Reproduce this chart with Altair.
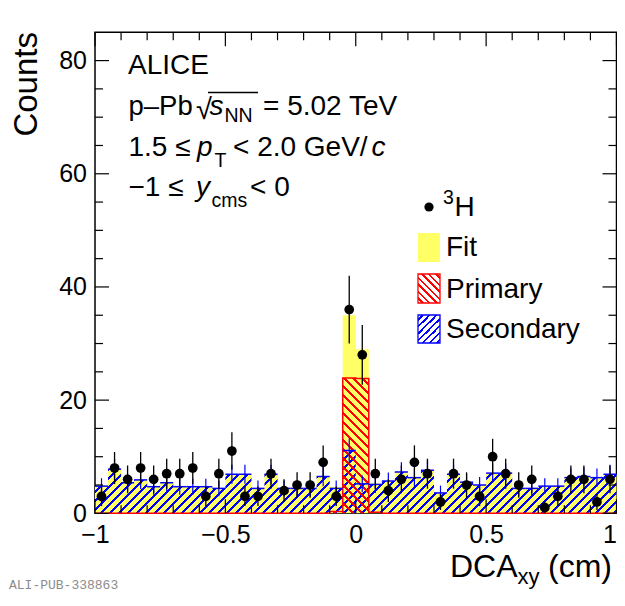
import altair as alt
import numpy as np
import pandas as pd

FONT = "Liberation Sans"
YELLOW = "#ffff66"

# ---------------- data ----------------
counts = [3, 8, 6, 8, 6, 7, 7, 8, 3, 7,
          11, 3, 3, 7, 4, 5, 5, 9, 3, 36,
          28, 7, 4, 6, 9, 7, 2, 7, 5, 3,
          10, 7, 5, 6, 1, 3, 6, 6, 2, 6]
count_err = [1.73, 2.83, 2.45, 2.83, 2.45, 2.65, 2.65, 2.83, 1.73, 2.65,
             3.32, 1.73, 1.73, 2.65, 2.0, 2.24, 2.24, 3.0, 1.73, 6.0,
             5.29, 2.65, 2.0, 2.45, 3.0, 2.65, 1.41, 2.65, 2.24, 1.73,
             3.16, 2.65, 2.24, 2.45, 1.0, 1.73, 2.45, 2.45, 1.41, 2.45]
fit = [4.8, 7.8, 5.4, 5.9, 4.7, 5.4, 4.7, 4.7, 4.7, 4.4,
       6.9, 6.9, 4.4, 6.9, 4.4, 4.4, 4.4, 6.5, 4.7, 35.0,
       29.0, 5.3, 5.7, 7.3, 6.3, 7.6, 3.6, 6.9, 5.5, 5.0,
       7.1, 7.1, 4.4, 4.4, 4.8, 4.8, 6.3, 6.5, 6.3, 6.9]
secondary = [4.8, 7.8, 5.4, 5.9, 4.7, 5.4, 4.7, 4.7, 4.7, 4.4,
             6.9, 6.9, 4.4, 6.9, 4.4, 4.4, 4.4, 6.5, 4.4, 11.1,
             5.2, 5.1, 5.7, 7.3, 6.3, 7.6, 3.6, 6.9, 5.5, 5.0,
             7.1, 7.1, 4.4, 4.4, 4.8, 4.8, 6.3, 6.5, 6.3, 6.9]
secondary_err = [1.4, 1.8, 1.5, 1.6, 1.4, 1.5, 1.4, 1.4, 1.4, 1.4,
                 1.7, 1.7, 1.4, 1.7, 1.4, 1.4, 1.4, 1.7, 1.4, 2.1,
                 1.5, 1.5, 1.5, 1.7, 1.6, 1.8, 1.3, 1.7, 1.5, 1.4,
                 1.7, 1.7, 1.4, 1.4, 1.4, 1.4, 1.6, 1.6, 1.6, 1.7]
primary = [0, 0, 0, 0, 0, 0, 0, 0, 0, 0,
           0, 0, 0, 0, 0, 0, 0, 0, 0.3, 23.9,
           23.8, 0.2, 0, 0, 0, 0, 0, 0, 0, 0,
           0, 0, 0, 0, 0, 0, 0, 0, 0, 0]

x_major = [-1.0, -0.5, 0.0, 0.5, 1.0]
x_minor = [-0.9, -0.8, -0.7, -0.6, -0.4, -0.3, -0.2, -0.1,
           0.1, 0.2, 0.3, 0.4, 0.6, 0.7, 0.8, 0.9]
y_major = [0, 20, 40, 60, 80]
y_minor = [5, 10, 15, 25, 30, 35, 45, 50, 55, 65, 70, 75]

N_BINS = 40
edges = np.round(np.linspace(-1.0, 1.0, N_BINS + 1), 3)
lo = edges[:-1]
hi = edges[1:]
center = np.round((lo + hi) / 2, 4)

bins = pd.DataFrame({
    "lo": lo, "hi": hi, "c": center,
    "n": counts, "n_lo": np.array(counts) - np.array(count_err),
    "n_hi": np.array(counts) + np.array(count_err),
    "sec": secondary,
    "sec_lo": np.array(secondary) - np.array(secondary_err),
    "sec_hi": np.array(secondary) + np.array(secondary_err),
})
step = pd.DataFrame({
    "x": list(lo) + [1.0],
    "fit": fit + [fit[-1]],
    "sec": secondary + [secondary[-1]],
    "prim": primary + [primary[-1]],
})

# ---------------- layout ----------------
X0, Y0 = 95.0, 32.3          # page position of the plot's top-left corner
W, H = 521.5, 481
YMAX = 85
TXT = 28

xs = alt.Scale(domain=[-1, 1], nice=False, zero=False)
ys = alt.Scale(domain=[0, YMAX], nice=False, zero=False)
X_AX = alt.Axis(values=x_major, format="~g", ticks=False, tickSize=0, domain=False,
                grid=False, labelFontSize=25, labelFont=FONT, labelColor="black",
                labelPadding=9, labelFlush=False, labelOverlap=False, title=None,
                labelAlign={"condition": {"test": "datum.value === 1", "value": "right"},
                            "value": "center"})
Y_AX = alt.Axis(values=y_major, format="d", ticks=False, tickSize=0, domain=False,
                grid=False, labelFontSize=25, labelFont=FONT, labelColor="black",
                labelPadding=8.5, labelOverlap=False, title=None)


def X(f):
    return alt.X(f, type="quantitative", scale=xs, axis=X_AX)


def Y(f):
    return alt.Y(f, type="quantitative", scale=ys, axis=Y_AX, stack=None)


def hatch(w, h, period, lw, color, direction):
    L = w + h
    k = L / (w * w + h * h)
    if direction == "/":
        x1, y1, x2, y2 = 0, 0, k * w, k * h
    else:
        x1, y1, x2, y2 = 0, 1, k * w, 1 - k * h
    clear = "rgba(255,255,255,0)"
    stops = []
    pos = period / 2
    while pos + lw < L:
        a = round(pos / L, 5)
        b = round((pos + lw) / L, 5)
        stops += [alt.GradientStop(offset=a, color=clear),
                  alt.GradientStop(offset=a, color=color),
                  alt.GradientStop(offset=b, color=color),
                  alt.GradientStop(offset=b, color=clear)]
        pos += period
    return alt.LinearGradient(gradient="linear", stops=stops,
                              x1=x1, y1=y1, x2=x2, y2=y2)


h_sec = max(secondary) / YMAX * H
h_prim = max(primary) / YMAX * H

dummy = pd.DataFrame({"k": [0]})


def label(txt, px, py, size=TXT, style="normal", align="left", angle=0,
          font=FONT, color="black"):
    kw = dict(text=txt, align=align, baseline="alphabetic", fontSize=size,
              font=font, color=color, fontStyle=style)
    if angle:
        kw["angle"] = angle
    return alt.Chart(dummy).mark_text(**kw).encode(
        x=alt.value(px - X0), y=alt.value(py - Y0))


def box(x1, x2, y1, y2, **kw):
    return alt.Chart(dummy).mark_rect(**kw).encode(
        x=alt.value(x1 - X0), x2=alt.value(x2 - X0),
        y=alt.value(y1 - Y0), y2=alt.value(y2 - Y0))


layers = []

# fit (yellow)
layers.append(alt.Chart(step).mark_area(interpolate="step-after", color=YELLOW, opacity=1)
              .encode(x=X("x"), y=Y("fit")))
# secondary hatch
layers.append(alt.Chart(step).mark_area(interpolate="step-after", opacity=1,
                                        fill=hatch(W, h_sec, 9, 3, "#0000ff", "/"))
              .encode(x=X("x"), y=Y("sec")))
# primary hatch
layers.append(alt.Chart(step).mark_area(interpolate="step-after", opacity=1,
                                        fill=hatch(W, h_prim, 9, 3, "#ff0000", "\\"))
              .encode(x=X("x"), y=Y("prim")))
# primary outline
layers.append(alt.Chart(step).mark_line(interpolate="step-after", color="#ff0000", strokeWidth=1.5)
              .encode(x=X("x"), y=Y("prim")))
# secondary crosses
layers.append(alt.Chart(bins).mark_rule(color="#0000ff", strokeWidth=1.5)
              .encode(x=X("lo"), x2="hi", y=Y("sec")))
layers.append(alt.Chart(bins).mark_rule(color="#0000ff", strokeWidth=1.2)
              .encode(x=X("c"), y=Y("sec_lo"), y2="sec_hi"))
# data points
layers.append(alt.Chart(bins).mark_rule(color="black", strokeWidth=1.3)
              .encode(x=X("c"), y=Y("n_lo"), y2="n_hi"))
layers.append(alt.Chart(bins).mark_circle(size=95, color="black", opacity=1)
              .encode(x=X("c"), y=Y("n")))

# ticks (inward, on all four sides)
for vals, ln in ((x_major, 14), (x_minor, 8)):
    df = pd.DataFrame({"v": vals})
    layers.append(alt.Chart(df).mark_rule(color="black", strokeWidth=1.2)
                  .encode(x=X("v"), y=alt.value(H), y2=alt.value(H - ln)))
    layers.append(alt.Chart(df).mark_rule(color="black", strokeWidth=1.2)
                  .encode(x=X("v"), y=alt.value(0), y2=alt.value(ln)))
for vals, ln in ((y_major, 14), (y_minor, 8)):
    df = pd.DataFrame({"v": vals})
    layers.append(alt.Chart(df).mark_rule(color="black", strokeWidth=1.2)
                  .encode(y=Y("v"), x=alt.value(0), x2=alt.value(ln)))
    layers.append(alt.Chart(df).mark_rule(color="black", strokeWidth=1.2)
                  .encode(y=Y("v"), x=alt.value(W), x2=alt.value(W - ln)))

# axis titles
layers.append(label("Counts", 36.5, 32, size=33, align="right", angle=270))
layers.append(label("DCA", 450, 577, size=32))
layers.append(label("xy", 517.5, 584, size=22))
layers.append(label("(cm)", 548, 577, size=32))

# annotation text
layers.append(label("ALICE", 128, 74))
layers.append(label("p\u2013Pb", 128.5, 115, size=27.5))
layers.append(label("\u221a", 196, 119, size=29))
layers.append(alt.Chart(dummy).mark_rule(color="black", strokeWidth=1.3).encode(
    x=alt.value(208 - X0), x2=alt.value(258 - X0), y=alt.value(92.5 - Y0)))
layers.append(label("s", 209.5, 115, style="italic"))
layers.append(label("NN", 224.5, 122, size=19.5))
layers.append(label("= 5.02 TeV", 263, 115))

layers.append(label("1.5 \u2264", 128.5, 156))
layers.append(label("p", 197, 156, style="italic"))
layers.append(label("T", 214.5, 167, size=19.5))
layers.append(label("< 2.0 GeV/", 233, 156))
layers.append(label("c", 371.5, 156, style="italic"))

layers.append(label("\u22121 \u2264", 128.5, 196))
layers.append(label("y", 196, 196, style="italic"))
layers.append(label("cms", 211.5, 207, size=19.5))
layers.append(label("< 0", 250, 196))

# legend
layers.append(alt.Chart(dummy).mark_circle(size=85, color="black", opacity=1).encode(
    x=alt.value(429 - X0), y=alt.value(207 - Y0)))
layers.append(label("3", 443, 204, size=19.5))
layers.append(label("H", 454.5, 216))
layers.append(box(418, 440, 233, 262, fill=YELLOW))
layers.append(label("Fit", 446, 256))
layers.append(box(418, 440, 274, 303, fill="white"))
layers.append(box(418, 440, 274, 303, fill=hatch(22, 29, 7, 2.5, "#ff0000", "\\"),
                  stroke="#ff0000", strokeWidth=1.3))
layers.append(label("Primary", 446, 298))
layers.append(box(418, 440, 315, 343, fill="white"))
layers.append(box(418, 440, 315, 343, fill=hatch(22, 28, 7, 2.5, "#0000ff", "/"),
                  stroke="#0000ff", strokeWidth=1.3))
layers.append(label("Secondary", 446, 338))

# publication id
layers.append(label("ALI-PUB-338863", 9, 589, size=13, font="Liberation Mono", color="#8c8c8c"))

# svg of 609 x 584 keeps the page (8 px body margin) inside the 625 x 606 window
SVG_W, SVG_H = 609, 584
chart = alt.layer(*layers).properties(
    width=W, height=H,
    autosize=alt.AutoSizeParams(type="none"),
    padding={"left": X0 - 8, "top": Y0 - 8, "right": SVG_W - (X0 - 8) - W,
             "bottom": SVG_H - (Y0 - 8) - H},
).configure_view(stroke="black", strokeWidth=1.5)

chart.save("out.html", embed_options={"renderer": "svg", "actions": False})
